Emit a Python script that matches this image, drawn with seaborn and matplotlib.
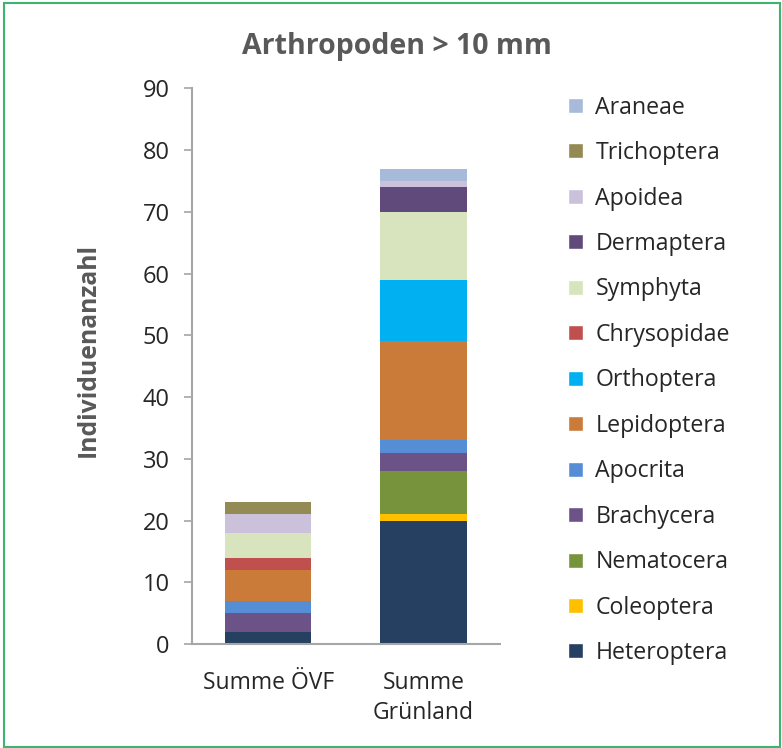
import pandas as pd
import seaborn as sns
import matplotlib.pyplot as plt
from matplotlib.patches import Patch, Rectangle

# data (stacking order bottom -> top)
groups = ['Summe ÖVF', 'Summe\nGrünland']
taxa = ['Heteroptera', 'Coleoptera', 'Nematocera', 'Brachycera', 'Apocrita',
        'Lepidoptera', 'Orthoptera', 'Chrysopidae', 'Symphyta', 'Dermaptera',
        'Apoidea', 'Trichoptera', 'Araneae']
oevf = [2, 0, 0, 3, 2, 5, 0, 2, 4, 0, 3, 2, 0]
gruenland = [20, 1, 7, 3, 2, 16, 10, 0, 11, 4, 1, 0, 2]
colors = ['#254061', '#FFC000', '#77933C', '#6B5388', '#558ED5',
          '#CB7B39', '#00B0F0', '#C0504D', '#D7E4BD', '#604A7B',
          '#CCC1DA', '#948A54', '#A8BADA']

df = pd.DataFrame({'taxon': taxa * 2,
                   'group': [groups[0]] * len(taxa) + [groups[1]] * len(taxa),
                   'n': oevf + gruenland})

sns.set_style('white')
plt.rcParams['font.family'] = ['Open Sans', 'DejaVu Sans']

fig = plt.figure(figsize=(7.82, 7.48), dpi=100)
ax = fig.add_axes([0.2455, 0.139, 0.3935, 0.743])

bottom = pd.Series([0.0, 0.0], index=groups)
for t, c in zip(taxa, colors):
    sub = df[df.taxon == t].set_index('group').loc[groups]
    sns.barplot(x=groups, y=sub.n.values, color=c, width=0.555,
                bottom=bottom.values, ax=ax, saturation=1, linewidth=0)
    bottom = bottom + sub.n.values

ax.set_ylim(0, 90)
ax.set_xlim(-0.49, 1.49)
ax.set_yticks(range(0, 91, 10))
for s in ['top', 'right']:
    ax.spines[s].set_visible(False)
for s in ['left', 'bottom']:
    ax.spines[s].set_color('#A6A6A6')
    ax.spines[s].set_linewidth(1.5)
ax.tick_params(axis='y', left=True, length=6, width=1.2, color='#A6A6A6',
               labelsize=17, pad=10)
ax.tick_params(axis='x', bottom=False, labelsize=16.5, pad=16)
for lab in ax.get_xticklabels():
    lab.set_linespacing(1.35)
ax.set_ylabel('Individuenanzahl', fontsize=17.8, fontweight='bold',
              color='#595959')
ax.yaxis.set_label_coords(-0.296, 0.529)
ax.set_xlabel('')
fig.text(0.508, 0.9385, 'Arthropoden > 10 mm', fontsize=20.5,
         fontweight='bold', color='#595959', ha='center', va='center')

handles = [Patch(facecolor=c, label=t) for t, c in zip(taxa, colors)][::-1]
fig.legend(handles=handles, loc='upper left', bbox_to_anchor=(0.70, 0.90),
           frameon=False, fontsize=16.7, labelspacing=0.925,
           handlelength=0.62, handleheight=0.62, handletextpad=0.55)

fig.patches.append(Rectangle((0.005, 0.002), 0.993, 0.994,
                             transform=fig.transFigure, fill=False,
                             edgecolor='#3DB56E', linewidth=1.5))

fig.savefig('out.png', dpi=100)
